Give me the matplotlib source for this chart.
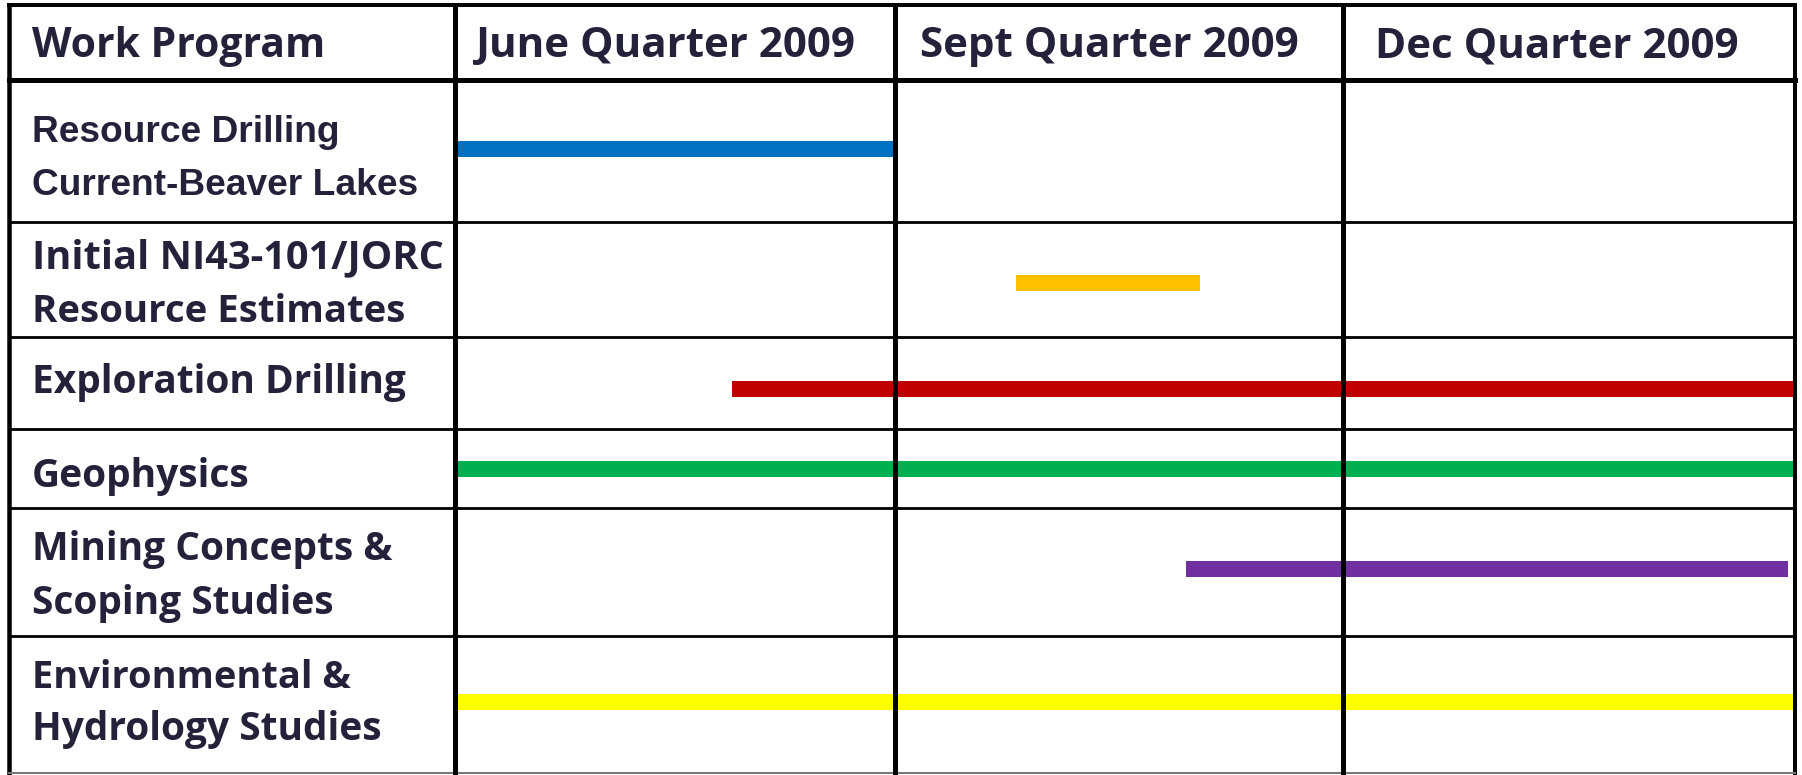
import numpy as np
import matplotlib
matplotlib.use("Agg")
import matplotlib.pyplot as plt
from matplotlib import font_manager

# ---- chart data ----
header_title = "Work Program"
quarters = ["June Quarter 2009", "Sept Quarter 2009", "Dec Quarter 2009"]
tasks = [
    ["Resource Drilling", "Current-Beaver Lakes"],
    ["Initial NI43-101/JORC", "Resource Estimates"],
    ["Exploration Drilling"],
    ["Geophysics"],
    ["Mining Concepts &", "Scoping Studies"],
    ["Environmental &", "Hydrology Studies"],
]
# start / end of each activity, in quarters (0 = start of June quarter)
task_start = [0.0, 1.27, 0.63, 0.0, 1.65, 0.0]
task_end = [1.0, 1.68, 3.0, 3.0, 2.985, 3.0]
task_colors = ["#0070C0", "#FFC000", "#C00000", "#00B050", "#7030A0", "#FFFF00"]

# ---- layout (pixels of the 1802x775 canvas) ----
W, H = 1802, 775
col_edges = [455, 895, 1343, 1795]          # quarter boundaries
row_edges = [80, 222, 337, 429, 508, 636, 773]
bar_shift = [-2, 3, 6, 0, -3, -3]            # bars sit a touch off-centre
top_y, left_x = 5, 9
text_color = "#23223a"

# pick a bold humanist face that is actually installed
names = {f.name for f in font_manager.fontManager.ttflist if f.weight in (600, 700, "bold", "semibold")}
head_family = "Open Sans"
for cand in ["Open Sans", "Noto Sans", "Lato", "DejaVu Sans"]:
    if cand in names:
        head_family = cand
        break

fig = plt.figure(figsize=(W / 100, H / 100), dpi=100)

# bars live in their own axes, spread over the quarter columns
ax_bar = fig.add_axes([col_edges[0] / W, 0, (col_edges[-1] - col_edges[0]) / W, 1])
q_idx = np.arange(len(col_edges))


def fwd(q):
    return np.interp(q, q_idx, col_edges)


def inv(p):
    return np.interp(p, col_edges, q_idx)


ax_bar.set_xscale("function", functions=(fwd, inv))
ax_bar.set_xlim(0, 3)
ax_bar.set_ylim(H, 0)
ax_bar.axis("off")

row_centers = [(row_edges[i] + row_edges[i + 1]) / 2 + bar_shift[i] for i in range(len(tasks))]
ax_bar.barh(row_centers, np.array(task_end) - np.array(task_start), left=task_start,
            height=16, color=task_colors, zorder=1)

# table grid + text on top
ax = fig.add_axes([0, 0, 1, 1])
ax.set_xlim(0, W)
ax.set_ylim(H, 0)
ax.patch.set_visible(False)
ax.axis("off")

px = 0.72  # pixels -> points
# outer frame
ax.plot([left_x, col_edges[-1]], [top_y, top_y], color="black", lw=4 * px, solid_capstyle="projecting")
ax.plot([left_x, left_x], [top_y, H], color="black", lw=4.5 * px)
ax.plot([col_edges[-1], col_edges[-1]], [top_y, H], color="black", lw=4 * px)
ax.plot([left_x, col_edges[-1]], [H - 2, H - 2], color="#777777", lw=2 * px)
# header separator
ax.plot([left_x, col_edges[-1]], [row_edges[0], row_edges[0]], color="black", lw=5 * px)
# row separators
for y in row_edges[1:-1]:
    ax.plot([left_x, col_edges[-1]], [y, y], color="black", lw=2.8 * px)
# column dividers
for x in col_edges[:-1]:
    ax.plot([x, x], [top_y, H], color="black", lw=5 * px)

# header text
head_font = dict(family=head_family, fontweight="bold", color=text_color)
ax.text(32, 57, header_title, va="baseline", ha="left", fontsize=29.4, **head_font)
quarter_x = [475, 920, 1375]
for x, q in zip(quarter_x, quarters):
    ax.text(x, 57, q, va="baseline", ha="left", fontsize=30.3, **head_font)

# row labels (baselines in pixels)
label_baselines = [[142, 195], [268, 322], [393], [487], [560, 614], [688, 740]]
label_sizes = [[26.7, 26.7], [28.6, 27.6], [28.0], [28.0], [28.0, 28.0], [27.4, 28.0]]
for i, (lines, bases) in enumerate(zip(tasks, label_baselines)):
    for txt, yb, fs in zip(lines, bases, label_sizes[i]):
        if i == 0:
            ax.text(32, yb, txt, va="baseline", ha="left", family="Liberation Sans",
                    fontweight="bold", fontsize=fs, color=text_color)
        else:
            ax.text(32, yb, txt, va="baseline", ha="left", family=head_family,
                    fontweight="bold", fontsize=fs, color=text_color)

fig.savefig("out.png", dpi=100, facecolor="white")
